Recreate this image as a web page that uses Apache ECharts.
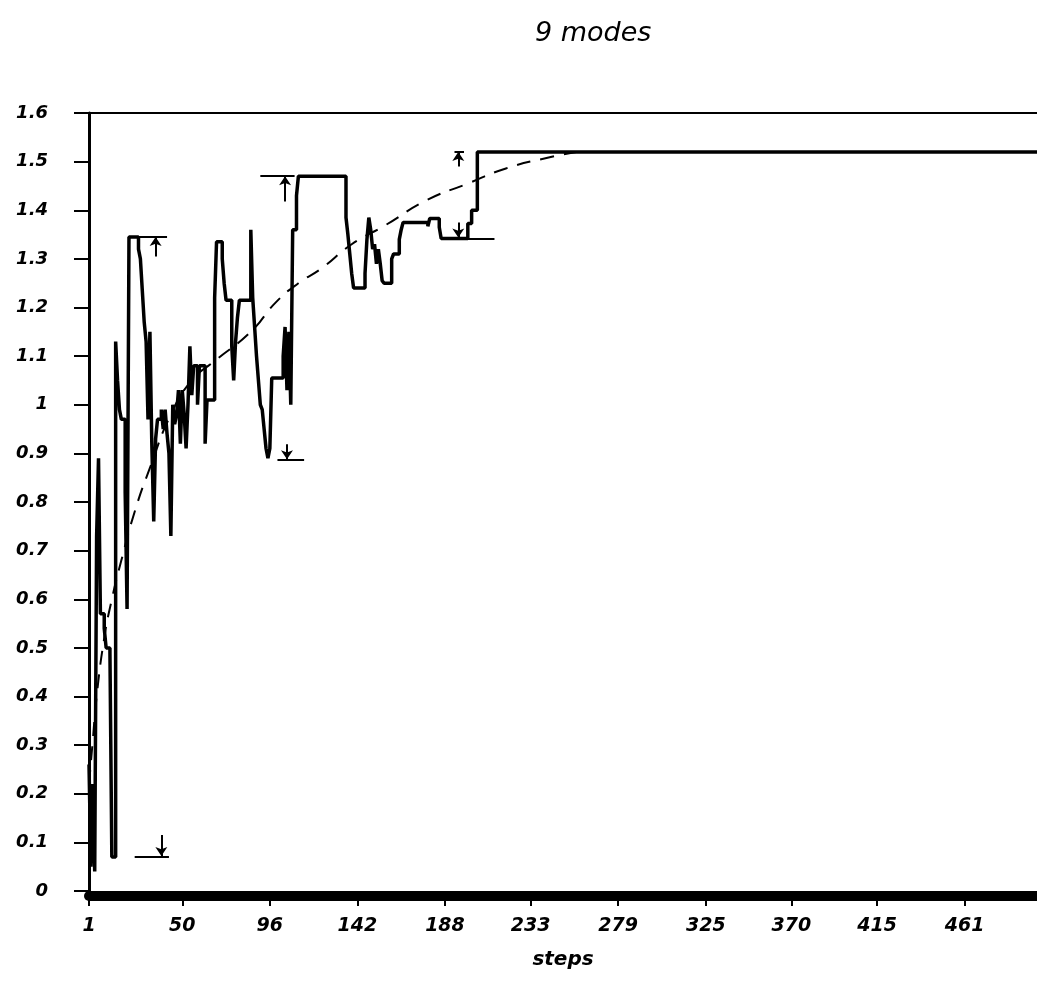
<!DOCTYPE html>
<html>
<head>
<meta charset="utf-8">
<script src="https://cdn.jsdelivr.net/npm/echarts@6/dist/echarts.min.js"></script>
<style>html,body{margin:0;padding:0;background:#fff}#c{width:1037px;height:995px}</style>
</head>
<body>
<div id="c"></div>
<script>
// ---- data ----
const chartTitle = '9 modes';
const xName = 'steps';
const xTickValues = [1, 50, 96, 142, 188, 233, 279, 325, 370, 415, 461];

// main curve: step at which value changes, and the value held from that step
const mainSteps = [1,2,3,4,5,6,7,9,10,12,13,15,16,17,18,20,21,22,27,28,29,30,31,32,33,34,35,36,37,39,40,41,42,43,44,45,46,47,48,49,50,51,52,53,54,55,56,58,59,62,63,67,68,71,72,73,76,77,78,79,80,86,87,88,89,90,91,92,93,94,95,96,97,103,104,105,106,107,108,110,111,136,137,138,139,140,146,147,148,149,150,151,152,153,154,155,156,160,161,164,165,166,179,180,185,186,200,202,205,499];
const mainValues = [0.26,0.05,0.22,0.04,0.73,0.89,0.57,0.54,0.50,0.49,0.07,1.13,1.05,0.99,0.97,0.82,0.58,1.345,1.32,1.30,1.235,1.17,1.13,0.97,1.15,0.92,0.76,0.93,0.97,0.99,0.95,0.99,0.94,0.90,0.73,1.00,0.96,0.98,1.03,0.92,1.03,0.98,0.91,1.00,1.12,1.02,1.08,1.00,1.08,0.92,1.01,1.22,1.335,1.30,1.25,1.215,1.12,1.05,1.13,1.18,1.215,1.36,1.22,1.16,1.10,1.05,1.00,0.99,0.95,0.91,0.89,0.91,1.055,1.10,1.16,1.03,1.15,1.00,1.36,1.43,1.47,1.385,1.35,1.31,1.27,1.24,1.27,1.34,1.385,1.36,1.32,1.33,1.29,1.32,1.29,1.255,1.25,1.30,1.31,1.34,1.36,1.375,1.367,1.383,1.365,1.342,1.373,1.40,1.52,1.52];

// dashed trend curve
const trendSteps = [1,3,5,9,13,18,25,33,44,55,67,86,99,111,123,139,157,178,200,220,243,257];
const trendValues = [0.22,0.31,0.40,0.52,0.60,0.68,0.78,0.87,0.98,1.05,1.09,1.15,1.21,1.25,1.28,1.33,1.37,1.42,1.455,1.486,1.509,1.52];

// extreme markers: horizontal bars [stepFrom, stepTo, value]
const markerBars = [[22,42,1.345],[25,43,0.07],[91,109,1.47],[100,114,0.886],[193,198,1.52],[186,214,1.342]];
// arrows [step, fromValue, toValue]
const markerArrows = [[36,1.305,1.345],[39,0.115,0.072],[104,1.418,1.47],[105,0.919,0.888],[195,1.49,1.52],[195,1.375,1.344]];

// ---- chart ----
const font = 'DejaVu Sans';
const black = '#000';
const chart = echarts.init(document.getElementById('c'), null, {renderer:'canvas'});
chart.setOption({
  animation: false,
  backgroundColor: '#fff',
  title: {
    text: chartTitle, left: 530, top: 15,
    textStyle: {fontFamily: font, fontStyle: 'italic', fontWeight: 'normal', fontSize: 27, color: black}
  },
  grid: {left: 89, right: 0, top: 113, bottom: 104, containLabel: false},
  xAxis: [{
    type: 'value', min: 1, max: 499, position: 'bottom', offset: 5,
    name: xName, nameLocation: 'middle', nameGap: 54,
    nameTextStyle: {fontFamily: font, fontStyle: 'italic', fontWeight: 'bold', fontSize: 20, color: black},
    axisLine: {onZero: false, lineStyle: {color: black, width: 10}},
    axisTick: {customValues: xTickValues, length: 10, lineStyle: {color: black, width: 2}},
    axisLabel: {customValues: xTickValues, margin: 21, fontFamily: font, fontStyle: 'italic', fontWeight: 'bold', fontSize: 19, color: black},
    splitLine: {show: false}
  }, {
    type: 'value', min: 1, max: 499, position: 'top',
    axisLine: {onZero: false, lineStyle: {color: black, width: 2}},
    axisTick: {show: false}, axisLabel: {show: false}, splitLine: {show: false}
  }],
  yAxis: {
    type: 'value', min: 0, max: 1.6, interval: 0.1,
    axisLine: {onZero: false, lineStyle: {color: black, width: 3}},
    axisTick: {length: 15, lineStyle: {color: black, width: 2}},
    axisLabel: {margin: 41, fontFamily: font, fontStyle: 'italic', fontWeight: 'bold', fontSize: 18, color: black},
    splitLine: {show: false}
  },
  series: [
    {
      type: 'line', step: 'end', showSymbol: false, silent: true,
      data: mainSteps.map((s, i) => [s, mainValues[i]]),
      lineStyle: {color: black, width: 3.5}
    },
    {
      type: 'line', smooth: 0.5, showSymbol: false, silent: true,
      data: trendSteps.map((s, i) => [s, trendValues[i]]),
      lineStyle: {color: black, width: 2, type: [14, 10]}
    },
    {
      type: 'line', data: [], silent: true,
      markLine: {
        silent: true, symbol: ['none', 'none'], label: {show: false}, animation: false,
        lineStyle: {color: black, width: 2, type: 'solid'},
        data: markerBars.map(b => [{coord: [b[0], b[2]]}, {coord: [b[1], b[2]]}])
      }
    },
    {
      type: 'line', data: [], silent: true,
      markLine: {
        silent: true, symbol: ['none', 'arrow'], symbolSize: 9, label: {show: false}, animation: false,
        lineStyle: {color: black, width: 2, type: 'solid'},
        data: markerArrows.map(a => [{coord: [a[0], a[1]]}, {coord: [a[0], a[2]]}])
      }
    }
  ]
});
</script>
</body>
</html>
